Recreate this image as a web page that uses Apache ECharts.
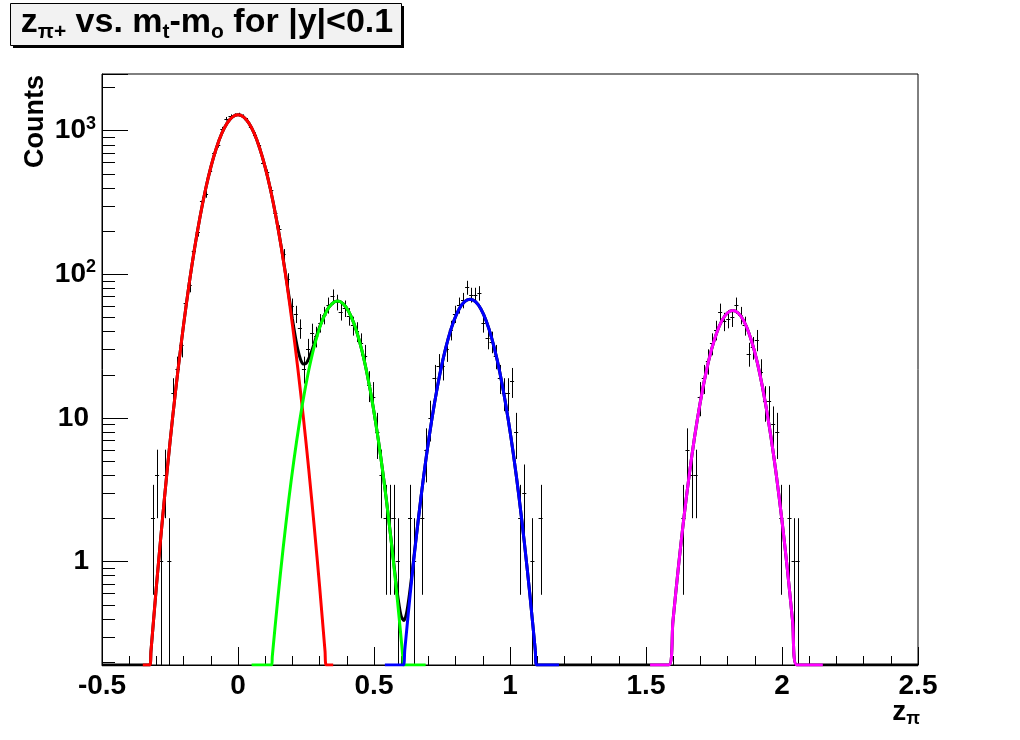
<!DOCTYPE html>
<html><head><meta charset="utf-8">
<script src="https://cdn.jsdelivr.net/npm/echarts@6/dist/echarts.min.js"></script>
<style>html,body{margin:0;padding:0;background:#fff}#c{width:1020px;height:740px}</style>
</head><body><div id="c"></div>
<script>
// ---------- data ----------
const binWidth = 0.015;
const binCenters = [
 -0.3125,-0.2975,-0.2825,-0.2675,-0.2525,-0.2375,-0.2225,-0.2075,-0.1925,-0.1775,-0.1625,-0.1475,-0.1325,-0.1175,-0.1025,-0.0875,-0.0725,-0.0575,-0.0425,-0.0275,-0.0125,0.0025,0.0175,0.0325,0.0475,0.0625,0.0775,0.0925,0.1075,0.1225,0.1375,0.1525,0.1675,0.1825,0.1975,0.2125,0.2275,0.2425,0.2575,0.2725,0.2875,0.3025,0.3175,0.3325,0.3475,0.3625,0.3775,0.3925,0.4075,0.4225,0.4375,0.4525,0.4675,0.4825,0.4975,0.5125,0.5275,0.5425,0.5575,0.5725,0.5875,
 0.6325,0.6475,0.6775,0.6925,0.7075,0.7225,0.7375,0.7525,0.7675,0.7825,0.7975,0.8125,0.8275,0.8425,0.8575,0.8725,0.8875,0.9025,0.9175,0.9325,0.9475,0.9625,0.9775,0.9925,1.0075,1.0225,1.0375,1.0525,1.0825,1.1125,
 1.6375,1.6525,1.6675,1.6825,1.6975,1.7125,1.7275,1.7425,1.7575,1.7725,1.7875,1.8025,1.8175,1.8325,1.8475,1.8625,1.8775,1.8925,1.9075,1.9225,1.9375,1.9525,1.9675,1.9825,1.9975,2.0275,2.0425,2.0575
];
const binCounts = [
 2,4,1,4,1,15,22,32,63,84,146,197,325,360,525,700,790,1030,1210,1262,1281,1296,1262,1190,1060,940,790,596,512,384,267,205,138,92,60,53,42,22,30,39,37,46,52,61,70,64,55,58,51,44,40,33,27,17,14,8,4,2,2,2,1,
 2,1,2,6,10,19,23,23,30,41,53,61,66,81,72,72,74,46,36,34,27,19,15,15,18,8,2,3,1,2,
 2,6,4,4,14,19,25,33,41,55,47,49,50,61,52,44,28,31,35,21,13,13,9,8,2,2,1,1
];
const redFit = [[-0.35,0.19],[-0.3245,0.19],[-0.32,0.236],[-0.30,0.67],[-0.28,1.77],[-0.26,4.39],[-0.24,10.2],[-0.22,22.0],[-0.20,44.6],[-0.18,84.7],[-0.16,150],[-0.14,248.5],[-0.12,384.6],[-0.10,556],[-0.08,752],[-0.06,953],[-0.04,1128],[-0.02,1247],[0,1290],[0.02,1247],[0.04,1128],[0.06,953],[0.08,752],[0.10,556],[0.12,384.6],[0.14,248.5],[0.16,150],[0.18,84.7],[0.20,44.6],[0.22,22.0],[0.24,10.2],[0.26,4.39],[0.28,1.77],[0.30,0.67],[0.32,0.236],[0.3245,0.19],[0.35,0.19]];
const greenFit = [[0.05,0.19],[0.124,0.19],[0.126,0.217],[0.146,0.539],[0.166,1.24],[0.186,2.63],[0.206,5.15],[0.226,9.33],[0.246,15.6],[0.266,24.2],[0.286,34.5],[0.306,45.5],[0.326,55.5],[0.346,62.5],[0.366,65],[0.386,62.5],[0.406,55.5],[0.426,45.5],[0.446,34.5],[0.466,24.2],[0.486,15.6],[0.506,9.33],[0.526,5.15],[0.546,2.63],[0.566,1.24],[0.586,0.539],[0.606,0.217],[0.608,0.19],[0.69,0.19]];
const blueFit = [[0.54,0.19],[0.6075,0.19],[0.613,0.24],[0.633,0.59],[0.653,1.34],[0.673,2.82],[0.693,5.49],[0.713,9.86],[0.733,16.4],[0.753,25.2],[0.773,35.8],[0.793,47.1],[0.813,57.3],[0.833,64.4],[0.853,67],[0.873,64.4],[0.893,57.3],[0.913,47.1],[0.933,35.8],[0.953,25.2],[0.973,16.4],[0.993,9.86],[1.013,5.49],[1.033,2.82],[1.053,1.34],[1.073,0.59],[1.093,0.24],[1.0985,0.19],[1.18,0.19]];
const magentaFit = [[1.515,0.19],[1.584,0.19],[1.599,0.383],[1.619,0.91],[1.639,1.99],[1.659,4.01],[1.679,7.44],[1.699,12.7],[1.719,20.0],[1.739,29.0],[1.759,38.7],[1.779,47.5],[1.799,53.7],[1.819,56],[1.839,53.7],[1.859,47.5],[1.879,38.7],[1.899,29.0],[1.919,20.0],[1.939,12.7],[1.959,7.44],[1.979,4.01],[1.999,1.99],[2.019,0.91],[2.039,0.383],[2.054,0.19],[2.15,0.19]];
const totalFit = [[-0.5,0.19],[-0.3245,0.19],[-0.32,0.236],[-0.30,0.67],[-0.28,1.77],[-0.26,4.39],[-0.24,10.2],[-0.22,22.0],[-0.20,44.6],[-0.18,84.7],[-0.16,150],[-0.14,248.5],[-0.12,384.6],[-0.10,556],[-0.08,752],[-0.06,953],[-0.04,1128],[-0.02,1247],[0,1290],[0.02,1247],[0.04,1128],[0.06,953],[0.08,752],[0.10,556],[0.12,384.6],[0.14,248.9],[0.16,151],[0.18,86.8],[0.20,48.8],[0.21,37.5],[0.22,29.9],[0.23,25.5],[0.24,23.7],[0.25,23.9],[0.26,25.8],[0.27,28.9],[0.28,32.9],[0.30,42.9],[0.326,55.7],[0.346,62.5],[0.366,65],[0.386,62.5],[0.406,55.5],[0.426,45.5],[0.446,34.5],[0.466,24.2],[0.486,15.6],[0.506,9.33],[0.526,5.16],[0.546,2.64],[0.566,1.26],[0.58,0.74],[0.59,0.53],[0.60,0.416],[0.61,0.388],[0.62,0.44],[0.63,0.585],[0.64,0.835],[0.653,1.36],[0.673,2.82],[0.693,5.49],[0.713,9.86],[0.733,16.4],[0.753,25.2],[0.773,35.8],[0.793,47.1],[0.813,57.3],[0.833,64.4],[0.853,67],[0.873,64.4],[0.893,57.3],[0.913,47.1],[0.933,35.8],[0.953,25.2],[0.973,16.4],[0.993,9.86],[1.013,5.49],[1.033,2.82],[1.053,1.34],[1.073,0.59],[1.093,0.24],[1.0985,0.19],[1.584,0.19],[1.599,0.383],[1.619,0.91],[1.639,1.99],[1.659,4.01],[1.679,7.44],[1.699,12.7],[1.719,20.0],[1.739,29.0],[1.759,38.7],[1.779,47.5],[1.799,53.7],[1.819,56],[1.839,53.7],[1.859,47.5],[1.879,38.7],[1.899,29.0],[1.919,20.0],[1.939,12.7],[1.959,7.44],[1.979,4.01],[1.999,1.99],[2.019,0.91],[2.039,0.383],[2.054,0.19],[2.5,0.19]];
const xMin = -0.5, xMax = 2.5, xStep = 0.5;
const yMin = 0.19, yMax = 2480;
const yTickValues = [1, 10, 100, 1000];
const yTickMantissa = ['1', '10', '10', '10'];
const yTickExponent = ['', '', '2', '3'];
const yMinorTicks = [0.2,0.3,0.4,0.5,0.6,0.7,0.8,0.9,2,3,4,5,6,7,8,9,20,30,40,50,60,70,80,90,200,300,400,500,600,700,800,900,2000];

// ---------- chart ----------
const FONT = 'Liberation Sans';
const chart = echarts.init(document.getElementById('c'), null, {renderer: 'canvas'});

function fitSeries(data, color, z) {
  return {type: 'line', data: data, showSymbol: false, symbol: 'none', smooth: 0.3,
    lineStyle: {color: color, width: 3}, z: z, silent: true, clip: true};
}

const option = {
  animation: false,
  backgroundColor: '#ffffff',
  textStyle: {fontFamily: FONT},
  grid: {left: 102, top: 74, width: 816, height: 591, show: true, borderColor: '#000', borderWidth: 1, backgroundColor: 'transparent'},
  xAxis: {
    type: 'value', min: xMin, max: xMax, interval: xStep,
    splitLine: {show: false},
    axisLine: {show: true, onZero: false, lineStyle: {color: '#000', width: 1}},
    axisTick: {show: true, inside: true, length: 18, lineStyle: {color: '#000', width: 1}},
    minorTick: {show: true, splitNumber: 5, length: 9, lineStyle: {color: '#000', width: 1}},
    axisLabel: {margin: 7, fontSize: 28, fontWeight: 'bold', color: '#000', fontFamily: FONT}
  },
  yAxis: {
    type: 'log', logBase: 10, min: yMin, max: yMax,
    splitLine: {show: false},
    axisLine: {show: true, onZero: false, lineStyle: {color: '#000', width: 1}},
    axisTick: {show: true, inside: true, length: 26, lineStyle: {color: '#000', width: 1}},
    minorTick: {show: false},
    axisLabel: {
      margin: 6, color: '#000', fontFamily: FONT, fontSize: 28, fontWeight: 'bold',
      formatter: function (v) {
        const i = yTickValues.findIndex(t => Math.abs(Math.log10(v / t)) < 1e-6);
        if (i < 0) return '';
        if (yTickExponent[i]) return '{b|' + yTickMantissa[i] + '}{s|' + yTickExponent[i] + '}';
        return '{p|' + yTickMantissa[i] + '}';
      },
      rich: {
        b: {fontSize: 28, fontWeight: 'bold', fontFamily: FONT, color: '#000', lineHeight: 32},
        p: {fontSize: 28, fontWeight: 'bold', fontFamily: FONT, color: '#000', lineHeight: 32, padding: [0, 7, 0, 0]},
        s: {fontSize: 18, fontWeight: 'bold', fontFamily: FONT, color: '#000', lineHeight: 18, verticalAlign: 'top'}
      }
    }
  },
  series: [
    {
      type: 'custom', name: 'ytick-minor', silent: true, z: 3,
      data: yMinorTicks.map(v => [xMin, v]),
      renderItem: function (params, api) {
        const p = api.coord([api.value(0), api.value(1)]);
        const y = Math.round(p[1]) + 0.5;
        return {type: 'line', shape: {x1: p[0], y1: y, x2: p[0] + 13, y2: y}, style: {stroke: '#000', lineWidth: 1}};
      }
    },
    {
      type: 'custom', name: 'data', silent: true, z: 4,
      data: binCenters.map((x, i) => [x, binCounts[i]]),
      renderItem: function (params, api) {
        const x = api.value(0), n = api.value(1);
        const e = Math.sqrt(n);
        const lo = Math.max(n - e, yMin), hi = Math.min(n + e, yMax);
        const pT = api.coord([x, hi]), pB = api.coord([x, lo]);
        const pL = api.coord([x - binWidth / 2, n]), pR = api.coord([x + binWidth / 2, n]);
        const cx = Math.round(pT[0]) + 0.5, cy = Math.round(pL[1]) + 0.5;
        return {type: 'group', children: [
          {type: 'line', shape: {x1: cx, y1: pT[1], x2: cx, y2: pB[1]}, style: {stroke: '#000', lineWidth: 1}},
          {type: 'line', shape: {x1: pL[0], y1: cy, x2: pR[0], y2: cy}, style: {stroke: '#000', lineWidth: 1}}
        ]};
      }
    },
    fitSeries(totalFit, '#000000', 5),
    fitSeries(redFit, '#ff0000', 6),
    fitSeries(greenFit, '#00ff00', 6),
    fitSeries(blueFit, '#0000ff', 6),
    fitSeries(magentaFit, '#ff00ff', 6)
  ],
  graphic: [
    {type: 'rect', shape: {x: 13, y: 6, width: 391, height: 42}, style: {fill: '#000'}, z: 100},
    {type: 'rect', shape: {x: 10.5, y: 3.5, width: 391, height: 42}, style: {fill: '#f2f2f2', stroke: '#000', lineWidth: 1}, z: 101},
    {type: 'text', x: 207, y: 23, z: 102, style: {
      text: '{b|z}{s|π+}{b| vs. m}{s|t}{b|-m}{s|o}{b| for |y|<0.1}',
      align: 'center', verticalAlign: 'middle',
      rich: {
        b: {fontSize: 34, fontWeight: 'bold', fontFamily: FONT, fill: '#000', lineHeight: 40},
        s: {fontSize: 21, fontWeight: 'bold', fontFamily: FONT, fill: '#000', lineHeight: 21, verticalAlign: 'bottom'}
      }
    }},
    {type: 'text', x: 36, y: 75, rotation: Math.PI / 2, z: 102, style: {
      text: 'Counts', fontSize: 27, fontWeight: 'bold', fontFamily: FONT, fill: '#000', align: 'right', verticalAlign: 'middle'
    }},
    {type: 'text', x: 920, y: 712, z: 102, style: {
      text: '{b|z}{s|π}', align: 'right', verticalAlign: 'middle',
      rich: {
        b: {fontSize: 28, fontWeight: 'bold', fontFamily: FONT, fill: '#000', lineHeight: 32},
        s: {fontSize: 18, fontWeight: 'bold', fontFamily: FONT, fill: '#000', lineHeight: 18, verticalAlign: 'bottom'}
      }
    }}
  ]
};
chart.setOption(option);
</script>
</body></html>
